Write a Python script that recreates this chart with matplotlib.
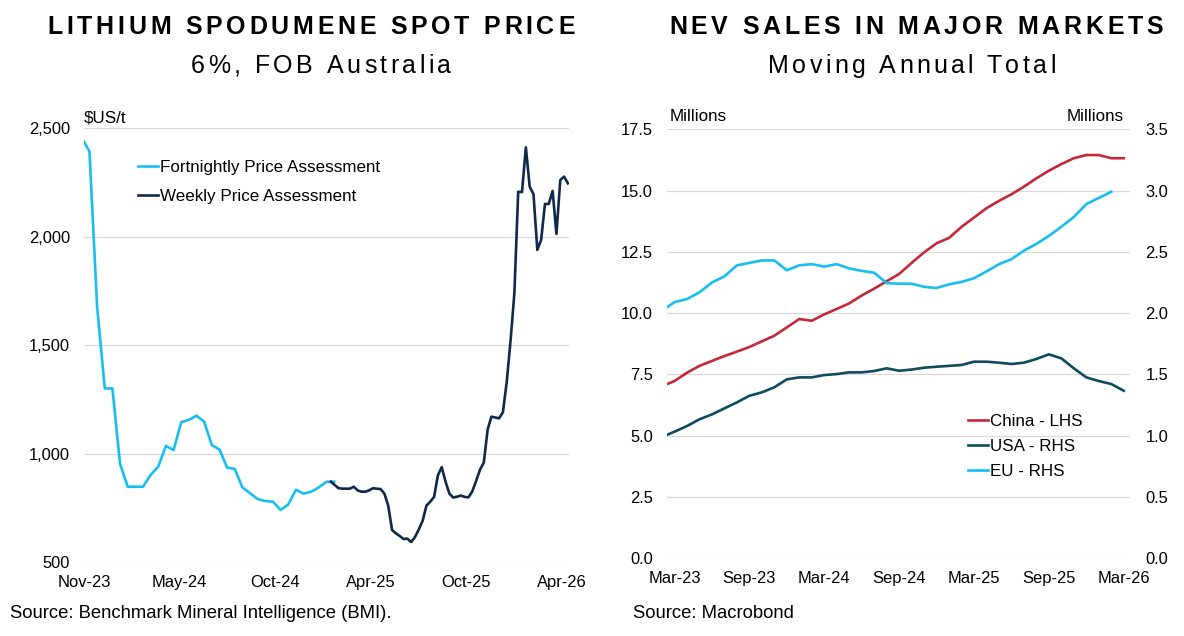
import numpy as np
import pandas as pd
import matplotlib
matplotlib.use("Agg")
import matplotlib.pyplot as plt
from matplotlib.font_manager import FontProperties, findfont, get_font
from matplotlib.ticker import MultipleLocator, FuncFormatter

# ---------------- data: lithium spodumene spot price ($US/t) ----------------
fort_dates = pd.DatetimeIndex(["2023-11-10"]).append(
    pd.date_range("2023-11-20", periods=33, freq="14D"))
fort_vals = [2437, 2391, 1677, 1300, 1300, 952, 847, 847, 847, 901, 940, 1035,
             1016, 1144, 1155, 1174, 1147, 1039, 1019, 935, 929, 844, 817, 790,
             781, 778, 740, 765, 833, 815, 824, 844, 870, 870]

week_dates = pd.date_range("2025-02-04", periods=63, freq="7D")
week_vals = [870, 855, 840, 838, 838, 838, 847, 830, 824, 824, 830, 840, 838,
             836, 815, 760, 648, 632, 620, 606, 608, 592, 615, 650, 690, 760,
             778, 800, 900, 937, 870, 815, 797, 801, 806, 800, 798, 826, 874,
             925, 958, 1110, 1170, 1166, 1162, 1190, 1330, 1520, 1740, 2206,
             2205, 2411, 2230, 2195, 1938, 1985, 2150, 2150, 2210, 2012, 2260,
             2276, 2245]

price_ticks = pd.date_range("2023-11-10", periods=6, freq="175D")

# ---------------- data: NEV sales, moving annual total (millions) ----------------
months = pd.period_range("2023-02", "2026-03", freq="M")
china = [7.02, 7.23, 7.57, 7.85, 8.05, 8.25, 8.43, 8.62, 8.85, 9.08, 9.42, 9.76,
         9.69, 9.95, 10.17, 10.40, 10.72, 11.0, 11.30, 11.60, 12.05, 12.48,
         12.85, 13.07, 13.52, 13.90, 14.28, 14.58, 14.85, 15.16, 15.50, 15.81,
         16.08, 16.32, 16.45, 16.45, 16.32, 16.32]
usa = [0.99, 1.033, 1.079, 1.134, 1.174, 1.223, 1.272, 1.326, 1.354, 1.395, 1.46,
       1.476, 1.476, 1.495, 1.503, 1.517, 1.517, 1.528, 1.55, 1.53, 1.54, 1.555,
       1.563, 1.57, 1.577, 1.604, 1.604, 1.596, 1.585, 1.596, 1.626, 1.664,
       1.631, 1.55, 1.476, 1.446, 1.422, 1.367]
eu = [2.02, 2.09, 2.115, 2.17, 2.25, 2.30, 2.39, 2.41, 2.43, 2.43, 2.35, 2.39,
      2.40, 2.38, 2.40, 2.365, 2.345, 2.33, 2.245, 2.24, 2.24, 2.215, 2.205,
      2.235, 2.255, 2.285, 2.34, 2.40, 2.44, 2.51, 2.565, 2.63, 2.705, 2.785,
      2.89, 2.94, 2.99]

CYAN = "#17BFF0"
NAVY = "#10294A"
RED = "#C3283B"
TEAL = "#0D4B5E"
GRID = "#D9D9D9"

W, H, DPI = 1184, 636, 100
FS = 16.5 * 0.72      # tick labels, pt
FL = 17 * 0.72        # legend / axis notes
FSRC = 18.5 * 0.72    # source lines

plt.rcParams["font.family"] = ["Liberation Sans", "DejaVu Sans"]

fig = plt.figure(figsize=(W / DPI, H / DPI), dpi=DPI)


def spaced(cx, y, text, size_px, gap_px, weight="normal"):
    # letter-spaced text centred at cx, baseline at y (pixels from top)
    prop = FontProperties(family="Liberation Sans", weight=weight, size=size_px * 0.72)
    font = get_font(findfont(prop))
    font.set_size(size_px * 0.72, DPI)
    adv = [font.load_char(ord(c)).linearHoriAdvance / 65536 for c in text]
    total = sum(adv) + gap_px * (len(text) - 1)
    x = cx - total / 2
    for c, a in zip(text, adv):
        if c != " ":
            fig.text(x / W, 1 - y / H, c, fontproperties=prop, ha="left",
                     va="baseline", color="black")
        x += a + gap_px


def clean(ax):
    for s in ax.spines.values():
        s.set_visible(False)
    ax.tick_params(length=0, labelsize=FS, colors="black")


# ---------------- left chart ----------------
ax1 = fig.add_axes([84 / W, 1 - 562 / H, 485 / W, 434 / H])
ax1.plot(fort_dates, fort_vals, color=CYAN, lw=1.9, label="Fortnightly Price Assessment")
ax1.plot(week_dates, week_vals, color=NAVY, lw=1.9, label="Weekly Price Assessment")
ax1.set_ylim(500, 2500)
ax1.yaxis.set_major_locator(MultipleLocator(500))
ax1.yaxis.set_major_formatter(FuncFormatter(lambda v, p: f"{v:,.0f}"))
ax1.set_xlim(pd.Timestamp("2023-11-10"), pd.Timestamp("2026-04-16"))
ax1.set_xticks(price_ticks)
ax1.set_xticklabels([d.strftime("%b-%y") for d in price_ticks])
ax1.grid(axis="y", color=GRID, lw=0.9)
ax1.set_axisbelow(True)
clean(ax1)
ax1.tick_params(axis="y", pad=10)
ax1.tick_params(axis="x", pad=9.5)
ax1.text(0, 1 + 10 / 434, "$US/t", transform=ax1.transAxes, ha="left", va="center",
         fontsize=FL)
ax1.legend(loc="upper left", bbox_to_anchor=(0.111, 0.927), frameon=False, fontsize=FL,
           handlelength=1.2, handletextpad=0.1, labelspacing=0.85, borderpad=0,
           borderaxespad=0)

# ---------------- right chart ----------------
idx = np.arange(-1, len(months) - 1)
ax2 = fig.add_axes([667 / W, 1 - 558.3 / H, 463 / W, 429 / H])
ax2r = ax2.twinx()
l1, = ax2.plot(idx, china, color=RED, lw=1.9, label="China - LHS")
l2, = ax2r.plot(idx, usa, color=TEAL, lw=1.9, label="USA - RHS")
l3, = ax2r.plot(idx[:len(eu)], eu, color=CYAN, lw=1.9, label="EU - RHS")
ax2.set_xlim(-0.6, 36.5)
ax2.set_ylim(0, 17.5)
ax2r.set_ylim(0, 3.5)
ax2.yaxis.set_major_locator(MultipleLocator(2.5))
ax2r.yaxis.set_major_locator(MultipleLocator(0.5))
ax2.yaxis.set_major_formatter(FuncFormatter(lambda v, p: f"{v:.1f}"))
ax2r.yaxis.set_major_formatter(FuncFormatter(lambda v, p: f"{v:.1f}"))
tick_idx = idx[1::6]
ax2.set_xticks(tick_idx)
ax2.set_xticklabels([months[i + 1].strftime("%b-%y") for i in tick_idx])
ax2.grid(axis="y", color=GRID, lw=0.9)
ax2.set_axisbelow(True)
clean(ax2)
clean(ax2r)
ax2.tick_params(axis="y", pad=10)
ax2r.tick_params(axis="y", pad=11)
ax2.tick_params(axis="x", pad=9.5)
ax2.text(0.006, 1 + 13 / 429, "Millions", transform=ax2.transAxes, ha="left",
         va="center", fontsize=FL)
ax2.text(0.987, 1 + 13 / 429, "Millions", transform=ax2.transAxes, ha="right",
         va="center", fontsize=FL)
ax2r.legend([l1, l2, l3], [l.get_label() for l in (l1, l2, l3)], loc="upper left",
            bbox_to_anchor=(0.650, 0.337), frameon=False, fontsize=FL,
            handlelength=1.2, handletextpad=0.1, labelspacing=0.6, borderpad=0,
            borderaxespad=0)

# ---------------- titles and sources ----------------
spaced(311, 34.3, "LITHIUM SPODUMENE SPOT PRICE", 25, 3.7, weight="bold")
spaced(321, 73.3, "6%, FOB Australia", 25, 3.4)
spaced(916, 34.3, "NEV SALES IN MAJOR MARKETS", 25, 3.7, weight="bold")
spaced(912, 73.3, "Moving Annual Total", 25, 3.3)

fig.text(10 / W, 1 - 614 / H, "Source: Benchmark Mineral Intelligence (BMI).",
         fontsize=FSRC, ha="left", va="center")
fig.text(633 / W, 1 - 614 / H, "Source: Macrobond", fontsize=FSRC, ha="left",
         va="center")

fig.savefig("out.png", dpi=DPI)
